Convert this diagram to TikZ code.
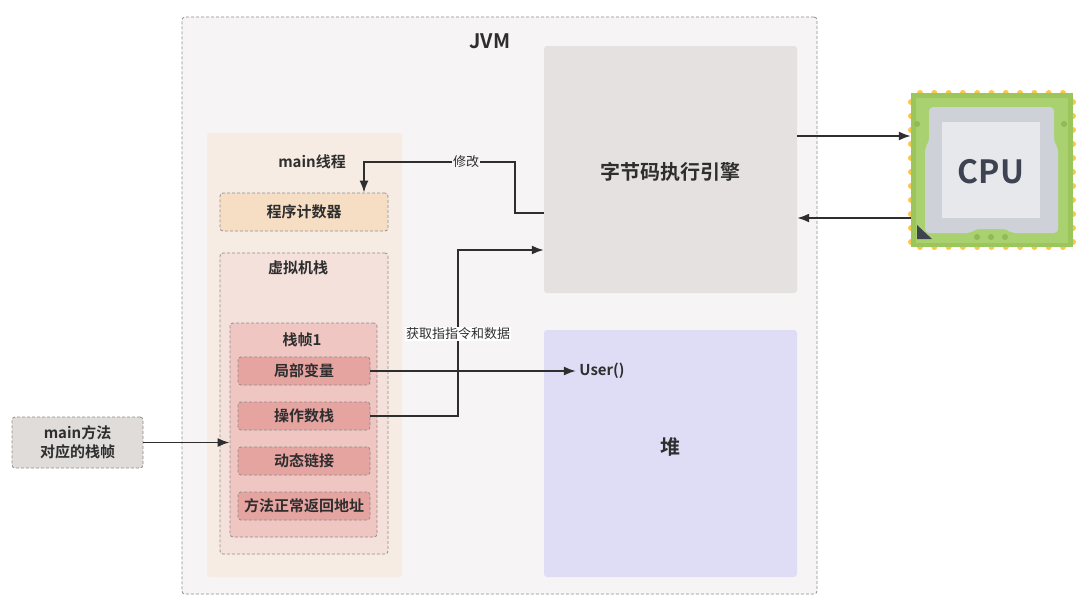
\documentclass[tikz,border=0pt]{standalone}
\usepackage{fontspec}
\setmainfont{Noto Sans CJK SC}[BoldFont={Noto Sans CJK SC Bold}]
\usetikzlibrary{arrows.meta}

\definecolor{ink}{HTML}{2E2E2E}
\definecolor{dashgray}{HTML}{8E8E8E}
\definecolor{jvmbg}{HTML}{F6F4F5}
\definecolor{enginebg}{HTML}{E5E1E0}
\definecolor{heapbg}{HTML}{DFDDF6}
\definecolor{threadbg}{HTML}{F7ECE3}
\definecolor{pcbg}{HTML}{F6DEC5}
\definecolor{stackbg}{HTML}{F5E1DC}
\definecolor{framebg}{HTML}{EFC6C2}
\definecolor{slotbg}{HTML}{E6A4A1}
\definecolor{mainbg}{HTML}{E0DCDA}
\definecolor{pinyellow}{HTML}{F8C84A}
\definecolor{cpugreen}{HTML}{9CC65C}
\definecolor{cpulight}{HTML}{A9D16F}
\definecolor{cpudot}{HTML}{8FBA55}
\definecolor{cpugray}{HTML}{CED1D8}
\definecolor{cpuface}{HTML}{E7E8EC}
\definecolor{cpuink}{HTML}{3D4350}

\tikzset{
  box/.style={draw=dashgray, dash pattern=on 3pt off 2pt, line width=0.8pt, rounded corners=3pt},
  panel/.style={rounded corners=3pt},
  lbl/.style={font=\bfseries\fontsize{15}{19}\selectfont, text=ink},
  big/.style={font=\bfseries\fontsize{20}{20}\selectfont, text=ink},
  note/.style={font=\fontsize{13}{13}\selectfont, text=ink, inner sep=1pt},
  arr/.style={draw=ink, line width=1.8pt, -{Latex[length=12pt,width=9pt]}},
}

\begin{document}
\begin{tikzpicture}[x=1pt, y=-1pt]
      \useasboundingbox[fill=white] (0,0) rectangle (1080,606);

      \node[box, fill=jvmbg, minimum width=635, minimum height=577] (jvm) at (499.5,305.5) {};
      \node[big] (jvmlbl) at (490,41) {JVM};

      \node[panel, fill=enginebg, minimum width=253, minimum height=247] (engine) at (670.5,169.5) {};
      \node[big] (enginelbl) at (670,172) {字节码执行引擎};
      \node[panel, fill=heapbg, minimum width=253, minimum height=247] (heap) at (670.5,453.5) {};
      \node[big] (heaplbl) at (670,447) {堆};
      \node[lbl] (user) at (602,371) {User()};

      % main thread
      \node[panel, fill=threadbg, minimum width=195, minimum height=444] (thread) at (304.5,355) {};
      \node[lbl] (threadlbl) at (312,162) {main线程};
      \node[box, fill=pcbg, minimum width=168, minimum height=38, lbl] (pc) at (304,212) {程序计数器};
      \node[box, fill=stackbg, minimum width=168, minimum height=301] (vmstack) at (304,403.5) {};
      \node[lbl] (vmstacklbl) at (298,268) {虚拟机栈};
      \node[box, fill=framebg, minimum width=147, minimum height=214] (frame) at (303.5,430) {};
      \node[lbl] (framelbl) at (302,340) {栈帧1};
      \foreach \y/\t/\n in {371/局部变量/lv, 416/操作数栈/ops, 461/动态链接/dyn, 506/方法正常返回地址/ret}
        \node[box, fill=slotbg, minimum width=132, minimum height=28, lbl] (\n) at (304,\y) {\t};

      \node[box, fill=mainbg, minimum width=131, minimum height=51, align=center, lbl] (mainframe) at (77.5,442.5) {main方法\\对应的栈帧};

      % connectors
      \coordinate (mod) at (515,213);
      \coordinate (modtop) at (364,162);
      \coordinate (fetch) at (458,250);
      \draw[arr] (mainframe.east) -- (mainframe.east -| frame.west);
      \draw[arr] (lv.east) -- (user.west);
      \draw[arr] (ops.east) -| (fetch) -- (fetch -| engine.west);
      \draw[arr] (mod -| engine.west) -- (mod) |- (modtop) -- (modtop |- pc.north);
      \node[note, fill=jvmbg] (modlbl) at (466,162) {修改};
      \node[note, fill=white] (fetchlbl) at (458,334) {获取指指令和数据};

      % cpu
      \foreach \i in {0,...,10} {
        \fill[pinyellow] ({920+14.3*\i},93) circle (3pt);
        \fill[pinyellow] ({920+14.3*\i},247) circle (3pt);
        \fill[pinyellow] (911,{102+14*\i}) circle (3pt);
        \fill[pinyellow] (1073,{102+14*\i}) circle (3pt);
      }
      \node[fill=cpugreen, minimum width=162, minimum height=154, inner sep=0] (cpu) at (992,170) {};
      \fill[cpulight] (916,98) rectangle (1068,243);
      \foreach \x in {917,1064} \fill[cpudot] (\x,124) circle (3pt);
      \fill[cpugray, rounded corners=4pt] (929,107) -- (1054,107) -- (1054,143) -- (1058,147) -- (1058,233)
        -- (1011,233) -- (1007,229) -- (975,229) -- (971,233) -- (925,233) -- (925,147) -- (929,143) -- cycle;
      \fill[cpuface] (942,122) rectangle (1040,218);
      \foreach \x in {977,991,1005} \fill[cpudot] (\x,237) circle (3pt);
      \fill[cpuink] (917,225) -- (917,239) -- (932,239) -- cycle;
      \node[font=\bfseries\fontsize{32}{32}\selectfont, text=cpuink] (cpulbl) at (991,172) {CPU};

      \draw[arr] ([yshift=33.5pt]engine.east) -- ([yshift=33.5pt]engine.east -| cpu.west);
      \draw[arr] ([yshift=-48pt]cpu.west) -- ([yshift=-48pt]cpu.west -| engine.east);
\end{tikzpicture}
\end{document}
